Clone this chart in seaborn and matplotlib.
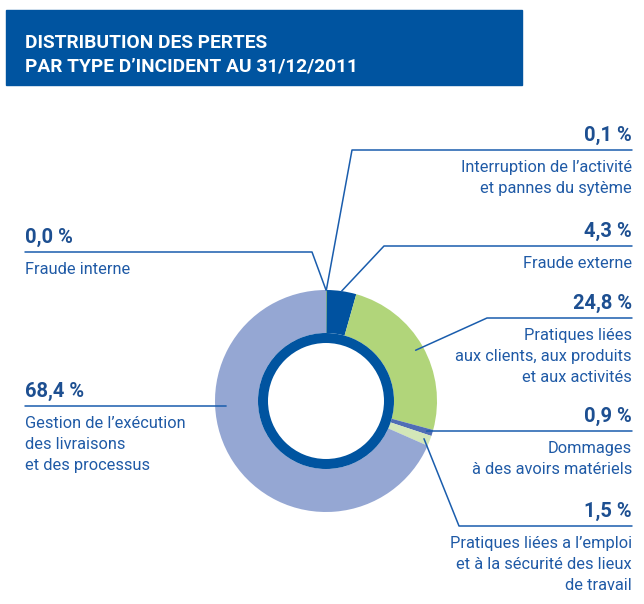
import matplotlib
matplotlib.use("Agg")
import matplotlib.pyplot as plt
import seaborn as sns
import numpy as np

sns.set_style("white")
plt.rcParams["font.family"] = ["Roboto", "DejaVu Sans"]

# data, in drawing order (clockwise from the top)
categories = [
    "Fraude interne",
    "Interruption de l\u2019activit\u00e9\net pannes du syt\u00e8me",
    "Fraude externe",
    "Pratiques li\u00e9es\naux clients, aux produits\net aux activit\u00e9s",
    "Dommages\n\u00e0 des avoirs mat\u00e9riels",
    "Pratiques li\u00e9es a l\u2019emploi\net \u00e0 la s\u00e9curit\u00e9 des lieux\nde travail",
    "Gestion de l\u2019ex\u00e9cution\ndes livraisons\net des processus",
]
values = [0.0, 0.1, 4.3, 24.8, 0.9, 1.5, 68.4]
pct_labels = ["0,0 %", "0,1 %", "4,3 %", "24,8 %", "0,9 %", "1,5 %", "68,4 %"]
colors = ["#8dc63f", "#8dc63f", "#0052a0", "#b1d57a", "#4f6db5", "#d3e7b8", "#95a7d3"]

title = "DISTRIBUTION DES PERTES\nPAR TYPE D\u2019INCIDENT AU 31/12/2011"

blue = "#0054a0"
text_blue = "#1f5aa6"
line_blue = "#1a5dad"

# label layout: side, y of the rule, x where the rule starts/ends near the donut
label_side = ["left", "right", "right", "right", "right", "right", "left"]
rule_y = [252, 150, 246, 318, 431, 526, 406]
rule_x = [312, 352, 384, 487, 427, 459, 226]
anchor_r = [111, 111, 111, 103, 105, 105, 100]

fig = plt.figure(figsize=(6.44, 6.04), dpi=100)
ax = fig.add_axes([0, 0, 1, 1])

cx, cy, R = 326, 401, 111
ax.pie(values, colors=colors, radius=R, center=(cx, cy), startangle=-90,
       counterclock=True, wedgeprops=dict(width=43, linewidth=0))
ax.pie([1], colors=[blue], radius=68, center=(cx, cy),
       wedgeprops=dict(width=10, linewidth=0))

ax.set_xlim(0, 644)
ax.set_ylim(604, 0)
ax.set_aspect("equal")
ax.axis("off")

# header band
ax.add_patch(plt.Rectangle((6, 10), 516, 75, color=blue, zorder=0))
ax.text(25, 55, title, color="white", fontsize=13.8, fontweight="bold",
        va="center", ha="left", linespacing=1.4)

# leader lines and labels
cum = np.cumsum([0] + values)
for i, cat in enumerate(categories):
    frac = (cum[i] + cum[i + 1]) / 2 / 100
    if i == 6:
        frac = 0.742
    theta = np.deg2rad(-90 + 360 * frac)
    ax_x = cx + anchor_r[i] * np.cos(theta)
    ax_y = cy + anchor_r[i] * np.sin(theta)
    y = rule_y[i]
    if label_side[i] == "left":
        x0, x1 = 25, rule_x[i]
        ax.plot([x0, x1, ax_x], [y, y, ax_y], color=line_blue, lw=1.1)
        ax.text(25, y - 5, pct_labels[i], ha="left", va="bottom",
                fontsize=14.5, fontweight="bold", color="#1d4f91")
        ax.text(25, y + 10, cat, ha="left", va="top", fontsize=11.8,
                color=text_blue, linespacing=1.5)
    else:
        x0, x1 = rule_x[i], 632
        ax.plot([ax_x, x0, x1], [ax_y, y, y], color=line_blue, lw=1.1)
        ax.text(632, y - 5, pct_labels[i], ha="right", va="bottom",
                fontsize=14.5, fontweight="bold", color="#1d4f91")
        ax.text(632, y + 10, cat, ha="right", va="top", fontsize=11.8,
                color=text_blue, linespacing=1.5, multialignment="right")

plt.savefig("out.png", dpi=100)
